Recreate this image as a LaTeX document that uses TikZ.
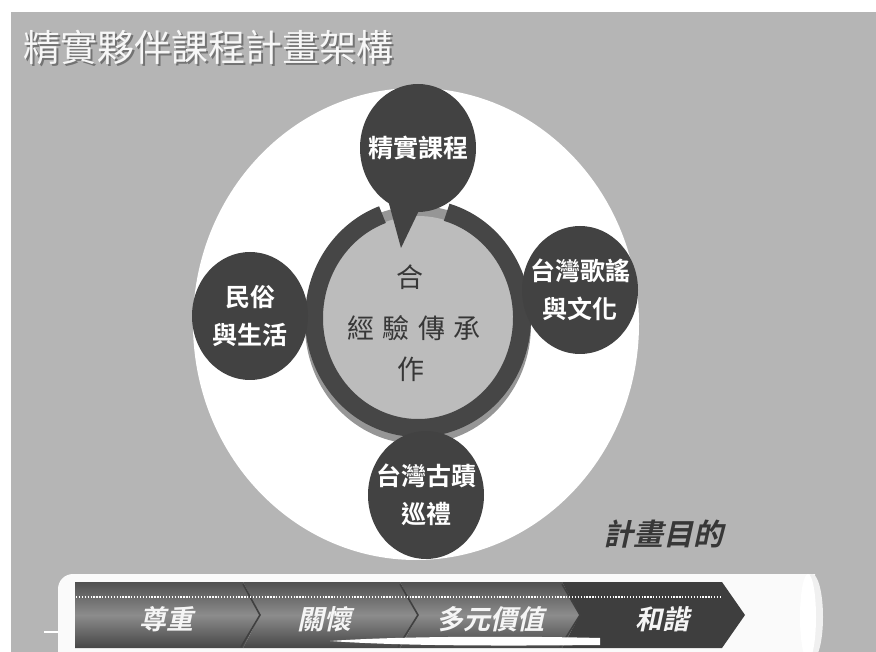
\documentclass[tikz,border=0pt]{standalone}
\usepackage{fontspec}
\setmainfont{Noto Sans CJK TC}
\newfontfamily\cjk{Noto Sans CJK TC}
\newfontfamily\cjkb{Noto Sans CJK TC Bold}
\newfontfamily\cjkit[FakeSlant=0.22]{Noto Sans CJK TC Bold}
\usetikzlibrary{shapes.geometric}
\definecolor{bggray}{RGB}{181,181,181}
\definecolor{darkc}{RGB}{66,66,66}
\definecolor{ringc}{RGB}{70,70,70}
\definecolor{innerc}{RGB}{188,188,188}
\definecolor{shadowc}{RGB}{150,150,150}
\definecolor{chevtop}{RGB}{80,80,80}
\definecolor{chevmid}{RGB}{140,140,140}
\definecolor{chevbot}{RGB}{70,70,70}
\definecolor{lastc}{RGB}{62,62,62}
\definecolor{textdark}{RGB}{55,55,55}
\tikzset{
  topic/.style={ellipse, fill=darkc, minimum width=116pt, minimum height=128pt, inner sep=0pt},
  topictext/.style={text=white, font=\cjkb\fontsize{25}{38}\selectfont, align=center, inner sep=0pt},
  chev/.style={top color=chevtop, bottom color=chevbot, middle color=chevmid, draw=none},
  chevlast/.style={fill=lastc, draw=none},
  chevtext/.style={text=white!92!gray, font=\cjkit\fontsize{27}{29}\selectfont},
  sep/.style={draw=black!75, line width=1.6pt},
  centertext/.style={text=textdark, font=\cjk\fontsize{27}{30}\selectfont}
}
\begin{document}
\begin{tikzpicture}[x=1pt,y=-1pt]
\useasboundingbox (0,0) rectangle (876,652);
\fill[white] (0,0) rectangle (876,652);
\fill[bggray] (11,12) rectangle (876,652);
% title
\node[text=black!55, font=\cjk\fontsize{37}{40}\selectfont, anchor=west] at (21.5,49.5) {精實夥伴課程計畫架構};
\node[text=white!94!gray, font=\cjk\fontsize{37}{40}\selectfont, anchor=west] (title) at (20,48) {精實夥伴課程計畫架構};
% big white disc
\fill[white] (416,324) ellipse [x radius=223, y radius=236];
% ring shadow, inner fill, ring
\draw[shadowc, line width=18pt] (418,325) ellipse [x radius=104, y radius=110];
\fill[innerc] (418,318) ellipse [x radius=96, y radius=102];
\draw[ringc, line width=18pt] (418,318) ++(-74:104 and 110) arc [start angle=-74, end angle=250, x radius=104, y radius=110];
% center text
\node[centertext] (c1) at (410,277) {合};
\node[centertext] (c2) at (414,328) {經\hspace{0.3em}驗\hspace{0.3em}傳\hspace{0.3em}承};
\node[centertext] (c3) at (411,369) {作};
% topic circles
\node[topic] (top) at (418,148) {};
\fill[darkc] (388,200) -- (424,200) -- (401,248) -- cycle;
\node[topic] (left) at (250,316) {};
\node[topic] (right) at (580,290) {};
\node[topic] (bottom) at (426,495) {};
\node[topictext] (toptext) at (top) {精實課程};
\node[topictext] (lefttext) at (left) {民俗\\與生活};
\node[topictext] (righttext) at (right) {台灣歌謠\\與文化};
\node[topictext] (bottomtext) at (bottom) {台灣古蹟\\巡禮};
% goal
\node[text=textdark, font=\cjkit\fontsize{30}{32}\selectfont] (goal) at (663,534) {計畫目的};
% tube
\fill[white!96!gray] (73,574) -- (815,574) -- (815,660) -- (73,660) -- (58,660) -- (58,589) arc [start angle=180, end angle=270, radius=15] -- cycle;
\fill[white!88!gray] (812,617) ellipse [x radius=11, y radius=43];
\fill[white] (808,617) ellipse [x radius=8, y radius=43];
\draw[white, line width=1.5pt] (44,632) -- (58,632);
% chevrons
\path[chev] (75,582) -- (243,582) -- (260,615) -- (243,648) -- (75,648) -- cycle;
\path[chev] (243,582) -- (400,582) -- (418,615) -- (400,648) -- (243,648) -- (260,615) -- cycle;
\path[chev] (400,582) -- (562,582) -- (580,615) -- (562,648) -- (400,648) -- (418,615) -- cycle;
\path[chevlast] (562,582) -- (722,582) -- (745,615) -- (722,648) -- (562,648) -- (580,615) -- cycle;
\draw[sep] (243,584) -- (260,615) -- (241,647);
\draw[sep] (400,584) -- (418,615) -- (398,647);
\draw[sep] (562,584) -- (580,615) -- (560,647);
\draw[white, line width=1.6pt, dash pattern=on 1.3pt off 1.6pt] (76,597) -- (720,597);
\fill[white] (330,641) .. controls (400,636) and (520,636) .. (600,638) -- (600,645) .. controls (500,646) and (400,646) .. (330,641) -- cycle;
\node[chevtext] (t1) at (166,619) {尊重};
\node[chevtext] (t2) at (324,619) {關懷};
\node[chevtext] (t3) at (490,619) {多元價值};
\node[chevtext] (t4) at (662,619) {和諧};
\end{tikzpicture}
\end{document}
